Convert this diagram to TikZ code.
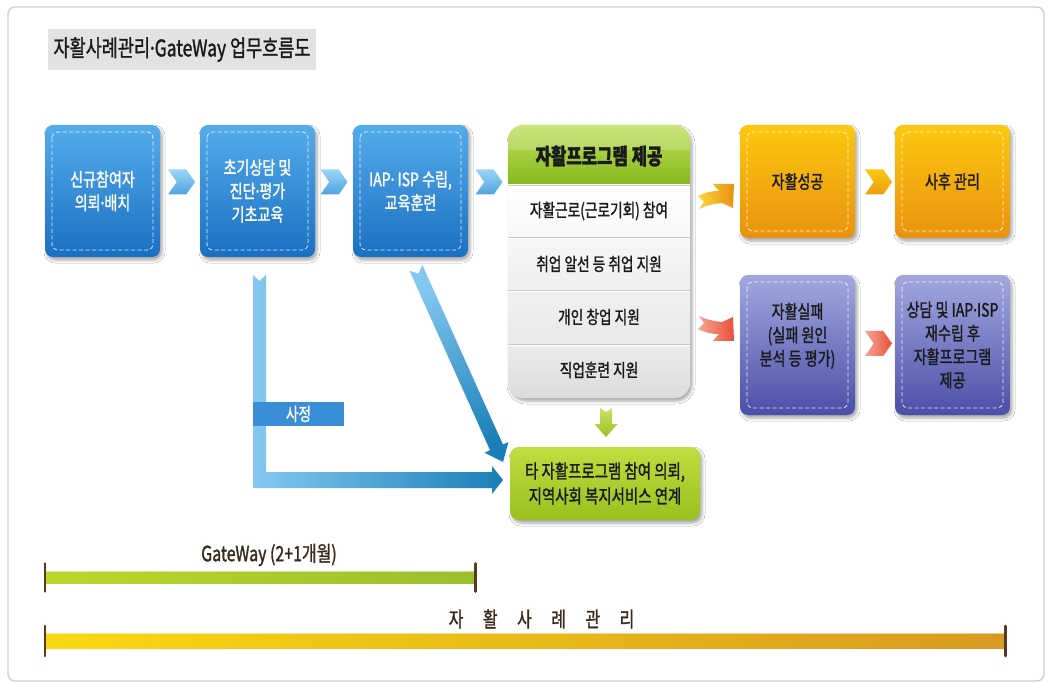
\documentclass[tikz,border=0pt]{standalone}
\usepackage{fontspec}
\setmainfont{Noto Sans CJK KR}[FakeStretch=0.76,FakeBold=1.3]
\newfontfamily\latinf{Noto Sans}[FakeStretch=0.76,FakeBold=1.3]
\newcommand\md{{\latinf ·}}
\usetikzlibrary{shadows.blur,shapes.symbols}
\definecolor{bluetop}{HTML}{55ACEB}
\definecolor{bluebot}{HTML}{1B6FC2}
\definecolor{orgtop}{HTML}{FCC80E}
\definecolor{orgbot}{HTML}{E8920F}
\definecolor{purtop}{HTML}{A2A8DE}
\definecolor{purbot}{HTML}{4A4FA8}
\definecolor{limetop}{HTML}{C2DD40}
\definecolor{limebot}{HTML}{98C01E}
\definecolor{hdrtop}{HTML}{C0E060}
\definecolor{hdrbot}{HTML}{86B91C}
\definecolor{tickc}{HTML}{5A3A1E}
\definecolor{labc}{HTML}{3A2A1C}
\definecolor{framec}{HTML}{CFCFCF}
\definecolor{titlebg}{HTML}{E2E2E3}
\definecolor{sajung}{HTML}{3A8ED6}
\definecolor{chevtop}{HTML}{9AD6F7}
\definecolor{chevbot}{HTML}{4EA3DE}
\definecolor{arrlight}{HTML}{84C8F1}
\definecolor{arrdark}{HTML}{1A7FB7}
\definecolor{gwL}{HTML}{BCD72B}
\definecolor{gwR}{HTML}{9ABF2B}
\definecolor{cmL}{HTML}{FAD812}
\definecolor{cmM}{HTML}{F0CA1A}
\definecolor{cmR}{HTML}{D89A20}
\definecolor{redL}{HTML}{F6A593}
\definecolor{redR}{HTML}{E8503A}
\definecolor{ink}{HTML}{1A1A1A}
\newcommand\bxfont{\fontsize{18.5}{23.5}\selectfont}
\newcommand\rowfont{\fontsize{18}{22}\selectfont}
\begin{document}
\begin{tikzpicture}[x=1pt,y=-1pt,
  shad/.style={blur shadow={shadow xshift=2pt,shadow yshift=-3pt,shadow blur radius=3pt,shadow opacity=35}},
  bx/.style={shad,rounded corners=8pt,minimum width=115pt,inner sep=0pt,align=center,font=\bxfont,
    path picture={\draw[white,opacity=0.85,dash pattern=on 4pt off 2.5pt,line width=0.8pt,rounded corners=6pt]
      ([shift={(7pt,-7pt)}]path picture bounding box.north west) rectangle
      ([shift={(-7pt,7pt)}]path picture bounding box.south east);}},
  bluebx/.style={bx,minimum height=132pt,top color=bluetop,bottom color=bluebot,text=white},
  orgbx/.style={bx,minimum height=113pt,top color=orgtop,bottom color=orgbot,text=ink},
  purbx/.style={bx,minimum height=140pt,top color=purtop,bottom color=purbot,text=ink},
  txt/.style={inner sep=0pt,align=center,font=\bxfont,text=ink},
  rowtxt/.style={inner sep=0pt,align=center,font=\rowfont,text=ink},
  chev/.style={shape=signal,signal from=west,signal to=east,signal pointer angle=110,
    minimum width=27pt,minimum height=25pt,inner sep=0pt},
  tickline/.style={draw=tickc,line width=2.6pt,line cap=round},
  barnode/.style={inner sep=0pt,draw=none}
]
\useasboundingbox (0,0) rectangle (1049,684);
% frame
\fill[white] (0,0) rectangle (1049,684);
\draw[framec,line width=1.4pt,rounded corners=7pt] (8,7) rectangle (1044,681);
% title
\node[fill=titlebg,minimum width=268pt,minimum height=41pt,inner sep=0pt,text=ink,
  font=\fontsize{23}{25}\selectfont] (title) at (182,49.5) {자활사례관리\md GateWay 업무흐름도};

% blue boxes
\node[bluebx] (b1) at (102.5,191) {신규참여자\\의뢰\md 배치};
\node[bluebx] (b2) at (257.5,191) {초기상담 및\\진단\md 평가\\기초교육};
\node[bluebx] (b3) at (410.5,191) {IAP\md\ ISP 수립,\\교육훈련};
\node[chev,top color=chevtop,bottom color=chevbot] (c1) at (181.5,182) {};
\node[chev,top color=chevtop,bottom color=chevbot] (c2) at (334,182) {};
\node[chev,top color=chevtop,bottom color=chevbot] (c3) at (489,182) {};

% program box
\node[shad,rounded corners=16pt,minimum width=182pt,minimum height=273pt,inner sep=0pt,
  fill=gray!25] (prog) at (599,261.5) {};
\begin{scope}
\clip[rounded corners=16pt] (prog.north west) rectangle (prog.south east);
\shade[top color=hdrtop,bottom color=hdrbot] (508,125) rectangle (690,185);
\fill[white,opacity=0.18] (508,125) rectangle (690,150);
\shade[top color=white,bottom color=gray!6] (508,185) rectangle (690,237);
\shade[top color=gray!6,bottom color=gray!13] (508,237) rectangle (690,290);
\shade[top color=gray!11,bottom color=gray!18] (508,290) rectangle (690,344);
\shade[top color=gray!15,bottom color=gray!28] (508,344) rectangle (690,398);
\draw[gray!40,line width=0.8pt] (508,185.5) -- (690,185.5);
\foreach \yy in {237,290,344}{
  \draw[gray!45,line width=0.9pt] (508,\yy) -- (690,\yy);
  \draw[white,line width=0.9pt] (508,\yy+1.3) -- (690,\yy+1.3);}
\end{scope}
\node[rowtxt,font=\fontsize{22}{24}\selectfont\bfseries] (hd) at (599,156) {자활프로그램 제공};
\node[rowtxt] (r1) at (599,211) {자활근로(근로기회) 참여};
\node[rowtxt] (r2) at (599,264) {취업 알선 등 취업 지원};
\node[rowtxt] (r3) at (599,317) {개인 창업 지원};
\node[rowtxt] (r4) at (599,370) {직업훈련 지원};

% orange & purple
\node[orgbx] (o1) at (797.5,181.5) {자활성공};
\node[orgbx] (o2) at (952.5,181.5) {사후 관리};
\node[purbx] (p1) at (797.5,345) {};
\node[txt] (p1t) at (797.5,336) {자활실패\\(실패 원인\\분석 등 평가)};
\node[purbx] (p2) at (952.5,345) {상담 및 IAP\md ISP\\재수립 후\\자활프로그램\\제공};
\node[chev,top color=orgtop,bottom color=orgbot!80!orgtop] (co) at (878.5,182) {};
\node[chev,left color=redL,right color=redR] (cr) at (878.5,343.5) {};

% swoosh arrows
\shade[left color=orgtop!80!white,right color=orgbot]
  (698,196) .. controls (706,192) and (712,191) .. (719,191) -- (713,184) -- (734,184)
  -- (733,208) -- (722,203) .. controls (712,204) and (705,206) .. (699,209) -- (704,202) -- cycle;
\shade[left color=redL,right color=redR]
  (698,329) .. controls (706,333) and (712,334) .. (719,334) -- (713,341) -- (734,341)
  -- (733,317) -- (722,322) .. controls (712,321) and (705,319) .. (699,316) -- (704,323) -- cycle;

% lime box and arrow
\node[shad,rounded corners=9pt,minimum width=190pt,minimum height=73pt,inner sep=0pt,text=ink,
  top color=limetop,bottom color=limebot,align=center,font=\fontsize{19}{25}\selectfont] (lm) at (605,483.5)
  {타 자활프로그램 참여 의뢰,\\지역사회 복지서비스 연계};
\shade[top color=limetop!80!white,bottom color=limebot]
  (600,408) -- (606,412) -- (612,408) -- (612,424) -- (617.5,424) -- (606,437) -- (594.5,424) -- (600,424) -- cycle;

% blue L arrow
\shade[left color=arrlight,right color=arrdark]
  (253,275) -- (259.5,281) -- (266,275) -- (266,472) -- (492,472) -- (492,466) -- (503,480)
  -- (492,494) -- (492,488) -- (253,488) -- cycle;
\node[fill=sajung,text=white,minimum width=91pt,minimum height=24pt,inner sep=0pt,
  font=\fontsize{18}{20}\selectfont] (sj) at (298.5,414) {사정};
% diagonal arrow
\shade[top color=arrlight,bottom color=arrdark,shading angle=20]
  (422.4,265.1) -- (502.9,444.5) -- (508.4,442.1) -- (503,462) -- (484.6,452.7) -- (490.1,450.3)
  -- (409.6,270.9) -- (418.5,273.5) -- cycle;

% timelines
\node[barnode,minimum width=430pt,minimum height=11pt] (gw) at (260,577.5) {};
\shade[left color=gwL,right color=gwR] (gw.north west) rectangle (gw.south east);
\draw[white,opacity=0.5,line width=0.8pt] (gw.north west) -- (gw.north east);
\draw[tickline] ([yshift=14pt]gw.west) -- ([yshift=-14pt]gw.west);
\draw[tickline] ([yshift=14pt]gw.east) -- ([yshift=-14pt]gw.east);
\node[text=labc,inner sep=0pt,font=\fontsize{21}{23}\selectfont] (gwl) at (269,555) {GateWay (2+1개월)};

\node[barnode,minimum width=960pt,minimum height=14pt] (cm) at (525,641) {};
\shade[left color=cmL,middle color=cmM,right color=cmR] (cm.north west) rectangle (cm.south east);
\draw[white,opacity=0.5,line width=0.8pt] (cm.north west) -- (cm.north east);
\draw[tickline] ([yshift=15pt]cm.west) -- ([yshift=-15pt]cm.west);
\draw[tickline] ([yshift=15pt]cm.east) -- ([yshift=-15pt]cm.east);
\node[text=labc,inner sep=0pt,font=\fontsize{21}{23}\selectfont] (cml) at (541.5,619)
  {자\hspace{19.5pt}활\hspace{19.5pt}사\hspace{19.5pt}례\hspace{19.5pt}관\hspace{19.5pt}리};
\end{tikzpicture}
\end{document}
